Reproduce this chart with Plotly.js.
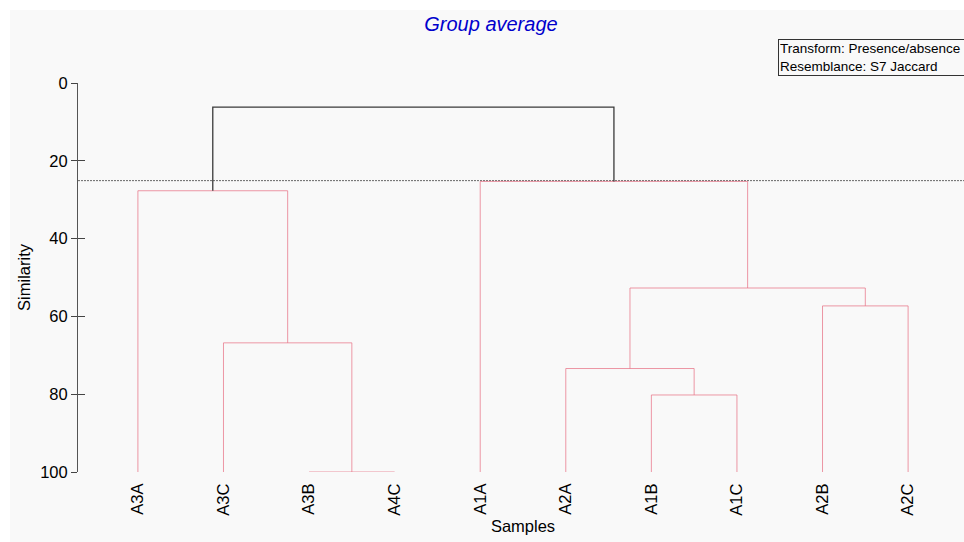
<!DOCTYPE html>
<html>
<head>
<meta charset="utf-8">
<script src="https://cdn.plot.ly/plotly-3.0.1.min.js"></script>
<style>
html,body{margin:0;padding:0;background:#ffffff;overflow:hidden;width:964px;height:542px;}
#chart{position:absolute;left:10px;top:10px;width:960px;height:532px;}
</style>
</head>
<body>
<div id="chart"></div>
<script>
// Leaf order along the x axis
const samples = ["A3A","A3C","A3B","A4C","A1A","A2A","A1B","A1C","A2B","A2C"];
// Merges: node ids 0-9 are leaves, merge k creates node 10+k
const mergeLeft  = [2, 1, 0, 6, 5, 8, 14, 4, 12];
const mergeRight = [3, 10, 11, 7, 13, 9, 15, 16, 17];
const mergeSimilarity = [100, 66.8, 27.7, 80.2, 73.4, 57.3, 52.7, 25.3, 6.2];
const sliceLevel = 25.1;
const yTicks = [0, 20, 40, 60, 80, 100];
const titleText = "Group average";
const infoLines = ["Transform: Presence/absence", "Resemblance: S7 Jaccard"];

const nodeX = samples.map((s,i)=>i);
const nodeY = samples.map(()=>100);
const redTraces = [], blackTraces = [];
for (let k=0;k<mergeLeft.length;k++){
  const a = mergeLeft[k], b = mergeRight[k], h = mergeSimilarity[k];
  const xa = nodeX[a], xb = nodeX[b];
  const above = h < sliceLevel;
  const t = {
    type:'scatter', mode:'lines', hoverinfo:'skip', showlegend:false, cliponaxis:false,
    x:[xa, xa, xb, xb], y:[nodeY[a], h, h, nodeY[b]],
    line: above ? {color:'#3a3a3a', width:1.3} : {color:'rgba(232,112,132,0.72)', width:1}
  };
  (above ? blackTraces : redTraces).push(t);
  nodeX.push((xa+xb)/2); nodeY.push(h);
}
const traces = [...redTraces, ...blackTraces];
// invisible trace to activate overlay axis (inside ticks)
traces.push({type:'scatter', x:[0], y:[0], xaxis:'x', yaxis:'y2', mode:'markers', marker:{opacity:0}, hoverinfo:'skip', showlegend:false});

const fam = '"Liberation Sans", Arial, sans-serif';
const fnt = {family:fam, color:'#000000', size:16.5};
const layout = {
  width:960, height:532,
  paper_bgcolor:'#f9f9f9', plot_bgcolor:'rgba(0,0,0,0)',
  margin:{l:68, r:2, t:73, b:70},
  font: fnt,
  showlegend:false,
  title:{text:titleText, x:0.501, xref:'container', y:0.974, yref:'container', yanchor:'middle', xanchor:'center',
         font:{family:fam, size:20, color:'#0000cc', style:'italic'}},
  xaxis:{range:[-0.7, 9.7], tickvals:samples.map((s,i)=>i), ticktext:samples, tickangle:-90,
         ticks:'outside', ticklen:4, tickcolor:'rgba(0,0,0,0)', showgrid:false, zeroline:false, showline:false,
         tickfont:fnt, title:{text:'Samples', font:fnt, standoff:5}},
  yaxis:{range:[100,0], tickvals:yTicks, ticks:'outside', ticklen:6, tickcolor:'#444', tickwidth:1,
         showline:true, linecolor:'#555', linewidth:1, showgrid:false, zeroline:false,
         tickfont:fnt, title:{text:'Similarity', font:fnt, standoff:5}},
  yaxis2:{range:[100,0], overlaying:'y', side:'left', tickvals:yTicks, ticks:'inside', ticklen:7,
          tickcolor:'#444', tickwidth:1, showticklabels:false, showline:false, showgrid:false, zeroline:false},
  shapes:[{type:'line', xref:'paper', x0:0, x1:1, yref:'y', y0:sliceLevel, y1:sliceLevel, layer:'below',
           line:{color:'#666666', width:1, dash:'2px,1px'}}],
  annotations:[{xref:'paper', yref:'paper', x:0.7865, y:1.113, xanchor:'left', yanchor:'top', align:'left',
                width:196, showarrow:false, text:infoLines.join('<br>'), bordercolor:'#333', borderwidth:1, borderpad:1,
                bgcolor:'#f9f9f9', font:{family:fam, size:13.5, color:'#000'}}]
};
Plotly.newPlot('chart', traces, layout, {displayModeBar:false, staticPlot:true});
</script>
</body>
</html>
